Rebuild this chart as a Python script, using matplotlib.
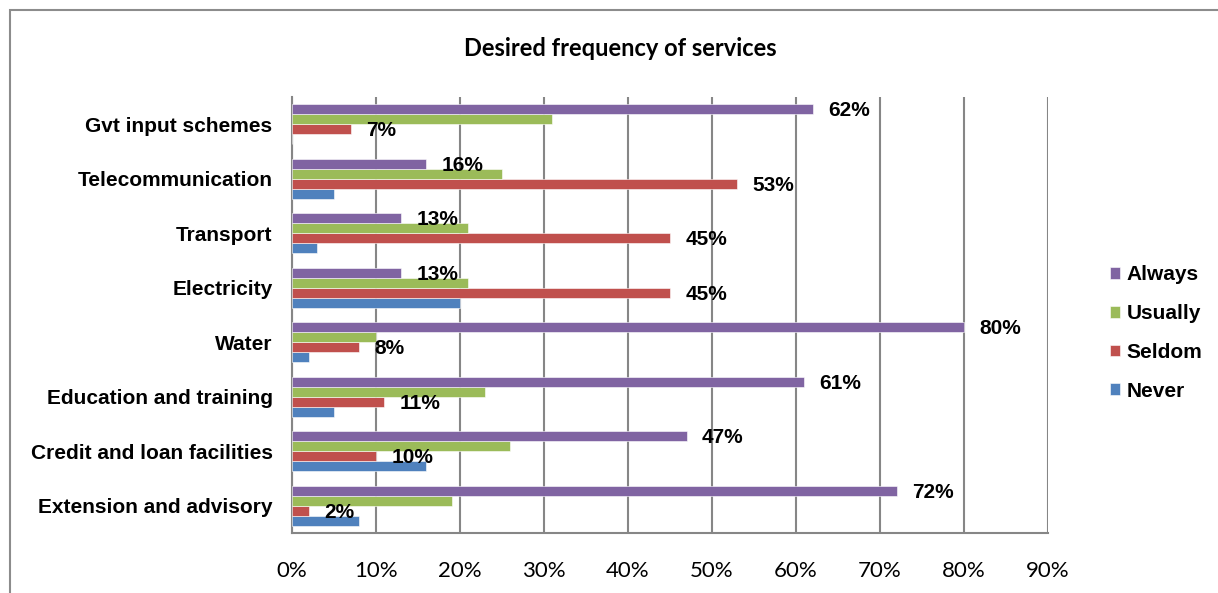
import numpy as np
import matplotlib
matplotlib.use("Agg")
import matplotlib.pyplot as plt
from matplotlib.patches import Rectangle

# categories listed bottom -> top
categories = ["Extension and advisory", "Credit and loan facilities",
              "Education and training", "Water", "Electricity",
              "Transport", "Telecommunication", "Gvt input schemes"]
never   = [8, 16, 5, 2, 20, 3, 5, 0]
seldom  = [2, 10, 11, 8, 45, 45, 53, 7]
usually = [19, 26, 23, 10, 21, 21, 25, 31]
always  = [72, 47, 61, 80, 13, 13, 16, 62]
series_names = ["Never", "Seldom", "Usually", "Always"]
colors = ["#4F81BD", "#C0504D", "#9BBB59", "#8064A2"]
x_ticks = [0, 10, 20, 30, 40, 50, 60, 70, 80, 90]

fig = plt.figure(figsize=(12.18, 5.93), dpi=100)
ax = fig.add_axes([292/1218, 1 - 533/593, 756/1218, 436/593])

y = np.arange(len(categories))
h = 0.182
data = [never, seldom, usually, always]
for i, (vals, name, col) in enumerate(zip(data, series_names, colors)):
    ax.barh(y + (i - 1.5) * h, vals, height=h, color=col, label=name,
            edgecolor="white", linewidth=0.4, zorder=3)

# data labels only on Seldom and Always
for vals, idx in ((seldom, 1), (always, 3)):
    for yi, v in zip(y, vals):
        ax.annotate(f"{v}%", (v, yi + (idx - 1.5) * h), xytext=(11, -1),
                    textcoords="offset points", ha="left", va="center",
                    fontsize=15, fontweight="bold", family="Liberation Sans",
                    color="black", zorder=4)

ax.set_xlim(0, 90)
ax.set_ylim(-0.5, len(categories) - 0.5)
ax.set_xticks(x_ticks)
ax.set_xticklabels([f"{t}%" for t in x_ticks], fontsize=16, family="Lato")
ax.set_yticks(y)
ax.set_yticklabels(categories, fontsize=15, fontweight="bold",
                   family="Liberation Sans")
ax.tick_params(axis="x", length=0, pad=20)
ax.tick_params(axis="y", length=0, pad=14)
ax.grid(axis="x", color="#868686", linewidth=1.5, zorder=0)
for s in ("top", "right"):
    ax.spines[s].set_visible(False)
for s in ("left", "bottom"):
    ax.spines[s].set_color("#868686")
    ax.spines[s].set_linewidth(1.5)

handles, labels = ax.get_legend_handles_labels()
fig.legend(handles[::-1], labels[::-1], loc="center left",
           bbox_to_anchor=(1091/1218, 1 - 333/593), frameon=False,
           prop={"family": "Liberation Sans", "weight": "bold", "size": 15},
           handlelength=0.5, handleheight=0.5, handletextpad=0.3,
           labelspacing=0.95)

fig.text(620/1218, 1 - 48/593, "Desired frequency of services", ha="center",
         va="center", fontsize=17, fontweight="bold", family="Lato")

# outer chart border (runs off the image to right and bottom)
fig.patches.append(Rectangle((10/1218, -0.1), 1.2, 1 - 10/593 + 0.1,
                             transform=fig.transFigure, fill=False,
                             edgecolor="#8c8c8c", linewidth=1.5))

fig.savefig("out.png", dpi=100)
